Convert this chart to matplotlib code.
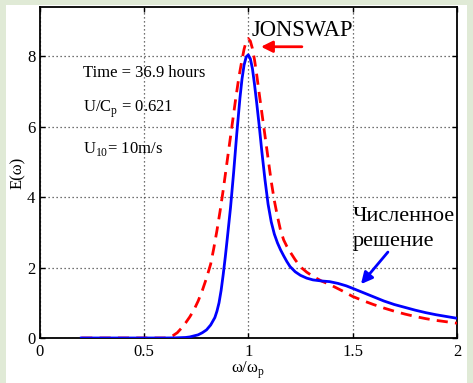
import matplotlib
matplotlib.use("Agg")
import matplotlib.pyplot as plt
from matplotlib.patches import Rectangle

# ---- data ----
x_num = [0.2, 0.6, 0.65, 0.7, 0.72, 0.74, 0.76, 0.78, 0.80, 0.82, 0.84, 0.85,
         0.86, 0.87, 0.88, 0.89, 0.90, 0.915, 0.93, 0.945, 0.96, 0.97, 0.98, 0.99,
         1.0, 1.01, 1.02, 1.03, 1.04, 1.053, 1.065, 1.08, 1.095, 1.11, 1.125,
         1.14, 1.155, 1.17, 1.185, 1.2, 1.225, 1.25, 1.28, 1.31, 1.35, 1.39,
         1.43, 1.47, 1.5, 1.55, 1.6, 1.65, 1.7, 1.75, 1.8, 1.85, 1.9, 1.95, 2.0]
y_num = [0.0, 0.0, 0.003, 0.015, 0.03, 0.06, 0.09, 0.15, 0.23, 0.37, 0.58, 0.76,
         1.0, 1.35, 1.8, 2.3, 2.85, 3.7, 4.7, 5.8, 6.8, 7.35, 7.75, 7.98,
         8.04, 7.93, 7.65, 7.2, 6.7, 6.0, 5.3, 4.5, 3.8, 3.3, 2.95,
         2.7, 2.5, 2.33, 2.17, 2.03, 1.88, 1.78, 1.7, 1.65, 1.62, 1.6,
         1.55, 1.48, 1.41, 1.29, 1.17, 1.05, 0.95, 0.87, 0.79, 0.72, 0.66, 0.61, 0.56]

x_jon = [0.2, 0.6, 0.62, 0.64, 0.66, 0.68, 0.70, 0.72, 0.74, 0.76, 0.78, 0.80,
         0.82, 0.835, 0.85, 0.865, 0.88, 0.895, 0.91, 0.925, 0.94, 0.955, 0.97,
         0.98, 0.99, 1.0, 1.01, 1.02, 1.03, 1.04, 1.05, 1.065, 1.08, 1.095, 1.11,
         1.125, 1.14, 1.155, 1.17, 1.185, 1.2, 1.225, 1.25, 1.28, 1.31, 1.35,
         1.39, 1.45, 1.5, 1.55, 1.6, 1.65, 1.7, 1.75, 1.8, 1.85, 1.9, 1.95, 2.0]
y_jon = [0.0, 0.0, 0.02, 0.07, 0.15, 0.28, 0.43, 0.6, 0.8, 1.05, 1.35, 1.7,
         2.1, 2.55, 3.05, 3.6, 4.2, 4.85, 5.5, 6.15, 6.8, 7.4, 7.9,
         8.2, 8.42, 8.5, 8.43, 8.22, 7.9, 7.5, 7.05, 6.4, 5.75, 5.1, 4.45,
         3.9, 3.45, 3.05, 2.78, 2.6, 2.45, 2.22, 2.02, 1.87, 1.75, 1.62,
         1.52, 1.34, 1.18, 1.06, 0.95, 0.85, 0.76, 0.68, 0.61, 0.55, 0.5, 0.46, 0.42]

x_ticks = [0, 0.5, 1, 1.5, 2]
x_ticklabels = ["0", "0.5", "1", "1.5", "2"]
y_ticks = [0, 2, 4, 6, 8]
y_ticklabels = ["0", "2", "4", "6", "8"]

plt.rcParams['font.family'] = ['Liberation Serif', 'DejaVu Serif']
plt.rcParams['mathtext.fontset'] = 'custom'
plt.rcParams['mathtext.rm'] = 'Liberation Serif'

W, H = 473, 383
fig = plt.figure(figsize=(W / 100, H / 100), dpi=100)
fig.patch.set_facecolor('#e0ead6')
fig.patches.append(Rectangle((6 / W, 0), (467 - 6) / W, (H - 5) / H,
                             transform=fig.transFigure, facecolor='white',
                             edgecolor='none', zorder=-10))

ax = fig.add_axes([39.5 / W, (H - 338) / H, (457 - 39.5) / W, (338 - 7.3) / H])
ax.set_zorder(1)
ax.set_xlim(0, 2)
ax.set_ylim(0, 9.39)

ax.plot(x_jon, y_jon, color=(1, 0, 0), lw=2.0, ls=(0, (4, 2.6)), zorder=3)
ax.plot(x_num, y_num, color=(0, 0, 1), lw=2.0, zorder=4)

ax.set_xticks(x_ticks)
ax.set_xticklabels(x_ticklabels)
ax.set_yticks(y_ticks)
ax.set_yticklabels(y_ticklabels)
ax.tick_params(direction='in', length=3.5, width=1, top=True, right=True,
               labelsize=12, pad=3)
ax.tick_params(axis='x', pad=4)
ax.grid(True, color='#444444', ls=(0, (1, 2.2)), lw=0.9)
for s in ax.spines.values():
    s.set_linewidth(1.3)

# annotations
ax.text(0.208, 7.41, "Time = 36.9 hours", fontsize=12, va='baseline')
ax.text(0.208, 6.41, r"U/C$_\mathregular{p}$ = 0.621", fontsize=12, va='baseline')
ax.text(0.208, 5.25, r"U$_\mathregular{10}$= 10m/s", fontsize=12, va='baseline')

ax.text(1.018, 8.58, "JONSWAP", fontsize=16.3, va='baseline')
ax.annotate("", xy=(1.061, 8.27), xytext=(1.257, 8.27),
            arrowprops=dict(arrowstyle='-|>', color=(1, 0, 0), lw=2,
                            mutation_scale=17, shrinkA=0, shrinkB=0))

ax.text(1.502, 3.33, "Численное", fontsize=16, va='baseline')
ax.text(1.502, 2.61, "решение", fontsize=16, va='baseline')
ax.annotate("", xy=(1.540, 1.53), xytext=(1.669, 2.44),
            arrowprops=dict(arrowstyle='-|>', color=(0, 0, 1), lw=2,
                            mutation_scale=17, shrinkA=0, shrinkB=0))

fig.text(248 / W, 1 - 360 / H, r"ω/ω$_\mathregular{p}$", fontsize=12,
         ha='center', va='top')
fig.text(18 / W, 1 - 173 / H, "E(ω)", fontsize=12, rotation=90,
         ha='center', va='center')

fig.savefig("out.png", dpi=100, facecolor=fig.get_facecolor())
